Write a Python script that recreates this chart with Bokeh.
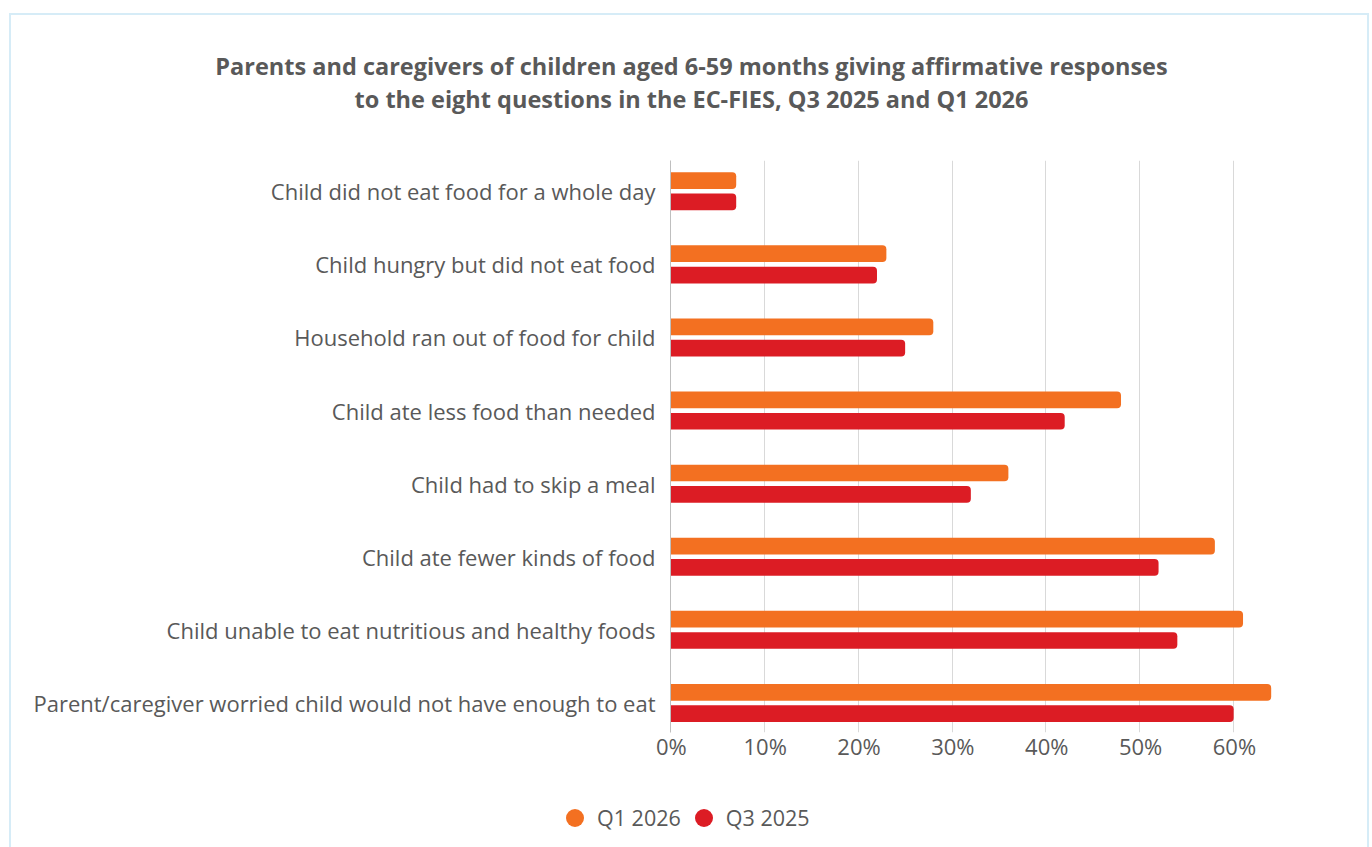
from bokeh.plotting import figure
from bokeh.models import (Legend, LegendItem, FixedTicker, Range1d, ColumnDataSource, Label,
                          LinearAxis)
from bokeh.layouts import column
from bokeh.embed import file_html
from bokeh.resources import INLINE

categories = [
    "Child did not eat food for a whole day",
    "Child hungry but did not eat food",
    "Household ran out of food for child",
    "Child ate less food than needed",
    "Child had to skip a meal",
    "Child ate fewer kinds of food",
    "Child unable to eat nutritious and healthy foods",
    "Parent/caregiver worried child would not have enough to eat",
]
q1_2026 = [7, 23, 28, 48, 36, 58, 61, 64]
q3_2025 = [7, 22, 25, 42, 32, 52, 54, 60]
x_ticks = [0, 10, 20, 30, 40, 50, 60, 70]
x_tick_labels = [f"{t}%" for t in x_ticks]
series_names = ["Q1 2026", "Q3 2025"]
series_colors = ["#F37021", "#DC1C24"]
title_lines = ["Parents and caregivers of children aged 6-59 months giving affirmative responses",
               "to the eight questions in the EC-FIES, Q3 2025 and Q1 2026"]

TEXT = "#595959"
FONT = "Open Sans"
BORDER = "#D6ECF7"
W = 1372
H_TITLE, H_MAIN, H_LEG = 140, 650, 57


def blank(height):
    f = figure(width=W, height=height, output_backend="svg", toolbar_location=None,
               x_range=Range1d(0, W), y_range=Range1d(height, 0),
               x_axis_type=None, y_axis_type=None, frame_align=False,
               min_border=0, min_border_left=0, min_border_right=0,
               min_border_top=0, min_border_bottom=0)
    f.grid.visible = False
    f.outline_line_color = None
    f.border_fill_color = None
    f.background_fill_color = None
    return f


# ---- title strip
tf = blank(H_TITLE)
for i, line in enumerate(title_lines):
    tf.add_layout(Label(x=W / 2 + 5, y=65 + 33 * i, text=line, text_align="center",
                        text_baseline="middle", text_font=FONT, text_font_style="bold",
                        text_font_size="23.5px", text_color=TEXT))

# ---- main chart
n = len(categories)
ypos = [n - i for i in range(n)]  # top category highest
offset = 0.146
bar_h = 0.228

src = ColumnDataSource(dict(
    y1=[y + offset for y in ypos],
    y2=[y - offset for y in ypos],
    q1=q1_2026,
    q3=q3_2025,
))

p = figure(width=W, height=H_MAIN, output_backend="svg", toolbar_location=None,
           x_range=Range1d(0, 70), y_range=Range1d(0.596, n + 0.421), frame_align=False,
           min_border_left=670, min_border_right=45, min_border_top=20,
           min_border_bottom=58)
p.border_fill_color = None
p.background_fill_color = None

p.hbar(y="y1", left=0, right="q1", height=bar_h, source=src,
       fill_color=series_colors[0], line_color=None, border_radius=(0, 4, 4, 0))
p.hbar(y="y2", left=0, right="q3", height=bar_h, source=src,
       fill_color=series_colors[1], line_color=None, border_radius=(0, 4, 4, 0))

# main x axis drives the gridlines; its labels are drawn by a twin axis nudged right
p.xaxis.ticker = FixedTicker(ticks=x_ticks)
p.xaxis.visible = False
p.extra_x_ranges = {"labels": Range1d(-0.085, 69.915)}
lab_axis = LinearAxis(x_range_name="labels", ticker=FixedTicker(ticks=x_ticks),
                      major_label_overrides={t: l for t, l in zip(x_ticks, x_tick_labels)},
                      axis_line_color=None, major_tick_line_color=None,
                      minor_tick_line_color=None, major_label_text_font=FONT,
                      major_label_text_font_size="22px", major_label_text_color=TEXT,
                      major_label_standoff=-8)
p.add_layout(lab_axis, "below")

p.yaxis.ticker = FixedTicker(ticks=ypos)
p.yaxis.major_label_overrides = {y: c for y, c in zip(ypos, categories)}
p.yaxis.axis_line_color = "#BFBFBF"
p.yaxis.axis_line_width = 1
p.yaxis.major_tick_line_color = None
p.yaxis.minor_tick_line_color = None
p.yaxis.major_label_text_font = FONT
p.yaxis.major_label_text_font_size = "22px"
p.yaxis.major_label_text_color = TEXT
p.yaxis.major_label_standoff = 9

p.xgrid.grid_line_color = "#D9D9D9"
p.xgrid.grid_line_width = 1
p.xgrid.ticker = FixedTicker(ticks=x_ticks)
p.ygrid.grid_line_color = None
p.outline_line_color = None

# ---- legend strip (legend markers are drawn at 0.4 x glyph box)
lf = blank(H_LEG)
nan = float("nan")
d1 = lf.scatter(x=[nan], y=[nan], marker="circle", size=18,
                fill_color=series_colors[0], line_color=None)
d2 = lf.scatter(x=[nan], y=[nan], marker="circle", size=18,
                fill_color=series_colors[1], line_color=None)
legend = Legend(items=[LegendItem(label=series_names[0], renderers=[d1]),
                       LegendItem(label=series_names[1], renderers=[d2])],
                orientation="horizontal", location=(552, 7),
                label_text_font=FONT, label_text_font_size="21.5px", label_text_color=TEXT,
                glyph_width=45, glyph_height=45, label_standoff=0, spacing=0,
                padding=0, margin=0, border_line_color=None, background_fill_alpha=0)
lf.add_layout(legend, "center")

bg = (f"linear-gradient({BORDER},{BORDER}) 9px 13px / 1360px 2px no-repeat, "
      f"linear-gradient({BORDER},{BORDER}) 9px 13px / 2px 900px no-repeat, "
      f"linear-gradient({BORDER},{BORDER}) 1367px 13px / 2px 900px no-repeat, white")
layout = column(tf, p, lf, spacing=0, styles={"background": bg})

open("out.html", "w").write(file_html(layout, INLINE))
